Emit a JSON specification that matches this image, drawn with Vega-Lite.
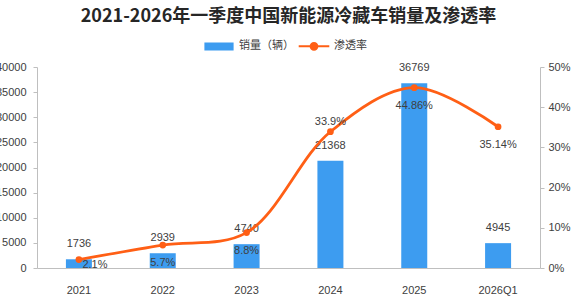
{
  "$schema": "https://vega.github.io/schema/vega-lite/v6.json",
  "autosize": {"type": "none"},
  "width": 503,
  "height": 201,
  "padding": {"left": 37, "top": 67, "right": 41, "bottom": 29},
  "background": "white",
  "title": {
    "text": "2021-2026年一季度中国新能源冷藏车销量及渗透率",
    "font": "Noto Sans CJK SC",
    "fontSize": 18,
    "fontWeight": "bold",
    "color": "#262626",
    "anchor": "middle",
    "offset": 2
  },
  "config": {
    "view": {"stroke": null},
    "font": "Liberation Sans",
    "axis": {
      "grid": false,
      "domainColor": "#bfbfbf",
      "tickColor": "#bfbfbf",
      "labelColor": "#404040",
      "labelFont": "Liberation Sans",
      "labelFontSize": 11,
      "titleFontSize": 0
    }
  },
  "data": {
    "values": [
      {"year": "2021", "sales": 1736, "rate": 0.021},
      {"year": "2022", "sales": 2939, "rate": 0.057},
      {"year": "2023", "sales": 4740, "rate": 0.088},
      {"year": "2024", "sales": 21368, "rate": 0.339},
      {"year": "2025", "sales": 36769, "rate": 0.4486},
      {"year": "2026Q1", "sales": 4945, "rate": 0.3514}
    ]
  },
  "encoding": {
    "x": {
      "field": "year",
      "type": "ordinal",
      "sort": null,
      "scale": {"paddingInner": 0, "paddingOuter": 0},
      "axis": {"title": null, "labelAngle": 0, "ticks": false, "labelPadding": 16, "domainColor": "#bfbfbf"}
    }
  },
  "layer": [
    {
      "encoding": {
        "y": {
          "field": "sales",
          "type": "quantitative",
          "scale": {"domain": [0, 40000]},
          "axis": {"title": null, "orient": "left", "values": [0, 5000, 10000, 15000, 20000, 25000, 30000, 35000, 40000], "format": "d", "tickSize": 4, "labelPadding": 7}
        }
      },
      "layer": [
        {
          "mark": {"type": "bar", "size": 26, "color": "#3d9cf0"},
          "encoding": {
            "color": {
              "datum": "销量（辆）",
              "type": "nominal",
              "scale": {"domain": ["销量（辆）", "渗透率"], "range": ["#3d9cf0", "#ff5f15"]},
              "legend": {
                "title": null,
                "orient": "none",
                "legendX": 164,
                "legendY": -39,
                "direction": "horizontal",
                "labelFont": "Noto Sans CJK SC",
                "labelFontSize": 11,
                "labelColor": "#404040",
                "symbolSize": 1156,
                "symbolStrokeWidth": 2,
                "labelOffset": 2,
                "columnPadding": 0,
                "encode": {
                  "symbols": {
                    "update": {
                      "shape": {"signal": "datum.value === '渗透率' ? 'M-0.9,0H0.9M0.2,0A0.2,0.2,0,1,1,-0.2,0A0.2,0.2,0,1,1,0.2,0Z' : 'M-0.8,-0.18H0.8V0.18H-0.8Z'"},
                      "fill": {"scale": "color", "field": "value"},
                      "stroke": {"scale": "color", "field": "value"},
                      "strokeWidth": {"value": 2},
                      "opacity": {"value": 1}
                    }
                  }
                }
              }
            }
          }
        },
        {
          "mark": {"type": "text", "dy": -15, "fontSize": 11, "color": "#404040", "font": "Liberation Sans"},
          "encoding": {"text": {"field": "sales", "type": "quantitative", "format": "d"}}
        }
      ]
    },
    {
      "encoding": {
        "y": {
          "field": "rate",
          "type": "quantitative",
          "scale": {"domain": [0, 0.5]},
          "axis": {"title": null, "orient": "right", "values": [0, 0.1, 0.2, 0.3, 0.4, 0.5], "format": ".0%", "tickSize": 4, "labelPadding": 4}
        }
      },
      "layer": [
        {
          "mark": {"type": "line", "interpolate": "catmull-rom", "strokeWidth": 2.8, "point": {"filled": true, "size": 45, "color": "#ff5f15"}},
          "encoding": {"color": {"datum": "渗透率", "type": "nominal"}}
        },
        {
          "transform": [{"filter": "datum.year === '2021'"}],
          "mark": {"type": "text", "dx": 16, "dy": 5, "fontSize": 11, "color": "#404040"},
          "encoding": {"text": {"field": "rate", "type": "quantitative", "format": "~%"}}
        },
        {
          "transform": [{"filter": "datum.year === '2024'"}],
          "mark": {"type": "text", "dy": -10, "fontSize": 11, "color": "#404040"},
          "encoding": {"text": {"field": "rate", "type": "quantitative", "format": "~%"}}
        },
        {
          "transform": [{"filter": "datum.year !== '2021' && datum.year !== '2024'"}],
          "mark": {"type": "text", "dy": 18, "fontSize": 11, "color": "#404040"},
          "encoding": {"text": {"field": "rate", "type": "quantitative", "format": "~%"}}
        }
      ]
    }
  ],
  "resolve": {"scale": {"y": "independent", "color": "shared"}}
}
